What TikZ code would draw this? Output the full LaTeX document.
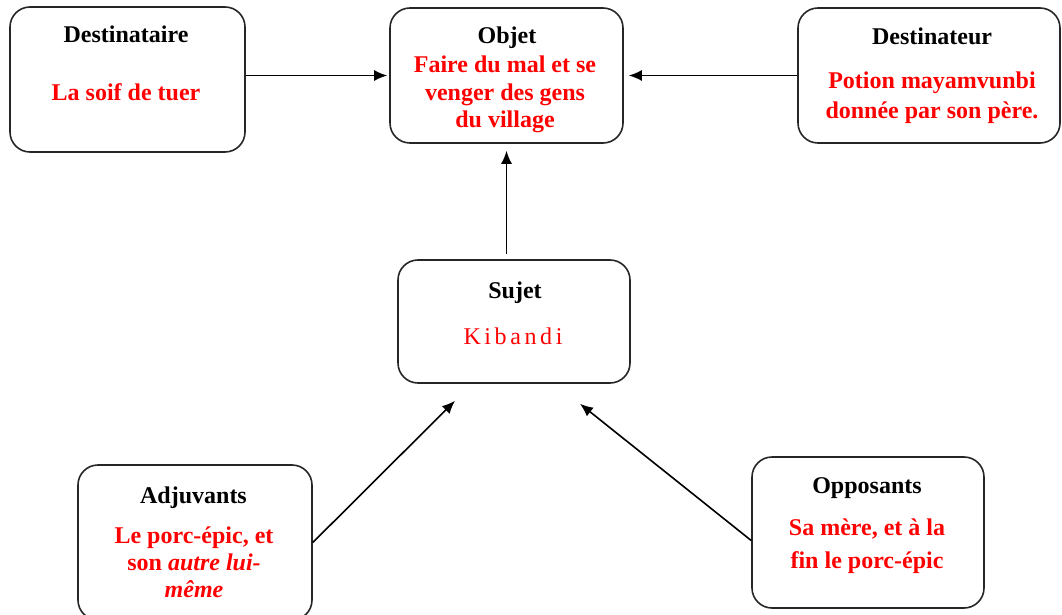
\documentclass[tikz,border=0pt]{standalone}
\usepackage{fontspec}
\setmainfont{Liberation Serif}
\usetikzlibrary{arrows.meta, positioning}

\begin{document}
\begin{tikzpicture}[x=1pt, y=1pt, >={Latex[length=13pt, width=11pt]}, line width=1.6pt,
    font=\fontsize{24}{28}\selectfont\bfseries]

  \tikzstyle{actant}=[draw=black!85, rounded corners=20pt, line width=1.6pt, inner sep=0pt]
  \tikzstyle{titre}=[text=black, inner sep=0pt, anchor=base]
  \tikzstyle{valeur}=[text=red, inner sep=0pt, anchor=base, align=center]

  \useasboundingbox (0,0) rectangle (1062,614);

  \node[actant, minimum width=235pt, minimum height=145pt] (dest) at (127.5,534.5) {};
  \node[actant, minimum width=233pt, minimum height=135pt] (obj) at (506.5,538.5) {};
  \node[actant, minimum width=262pt, minimum height=135pt] (destr) at (929,538.5) {};
  \node[actant, minimum width=232pt, minimum height=123pt] (suj) at (514,292.5) {};
  \node[actant, minimum width=234pt, minimum height=155pt] (adj) at (195,71.5) {};
  \node[actant, minimum width=232pt, minimum height=151pt] (opp) at (868,81.5) {};

  \node[titre] (destT) at (126,571) {Destinataire};
  \node[valeur] (destV) at (126,513) {La soif de tuer};

  \node[titre] (objT) at (507,570) {Objet};
  \node[valeur, font=\fontsize{24}{27.5}\selectfont\bfseries] (objV) at (505,486)
    {Faire du mal et se\\venger des gens\\du village};

  \node[titre] (destrT) at (932,569) {Destinateur};
  \node[valeur, font=\fontsize{24}{30}\selectfont\bfseries] (destrV) at (932,495)
    {Potion mayamvunbi\\donnée par son père.};

  \node[titre] (sujT) at (515,316) {Sujet};
  \node[valeur, font=\fontsize{24}{28}\selectfont\addfontfeature{LetterSpace=15}] (sujV) at (513,270) {Kibandi};

  \node[titre] (adjT) at (193.5,111) {Adjuvants};
  \node[valeur, font=\fontsize{24}{27}\selectfont\bfseries] (adjV) at (194,17)
    {Le porc-épic, et\\son \textit{autre lui-}\\\textit{même}};

  \node[titre] (oppT) at (867,121) {Opposants};
  \node[valeur, font=\fontsize{24}{33}\selectfont\bfseries] (oppV) at (867,46)
    {Sa mère, et à la\\fin le porc-épic};

  \draw[->, shorten >=2pt] (dest.east |- obj.west) -- (obj.west);
  \draw[->, shorten >=5pt] (destr.west) -- (obj.east);
  \draw[->, shorten <=5pt, shorten >=7pt] (suj.north -| obj.south) -- (obj.south);
  \draw[->] (adj.east) -- ([xshift=-59pt, yshift=-17pt]suj.south);
  \draw[->] ([yshift=-8pt]opp.west) -- ([xshift=66pt, yshift=-20pt]suj.south);

\end{tikzpicture}
\end{document}
